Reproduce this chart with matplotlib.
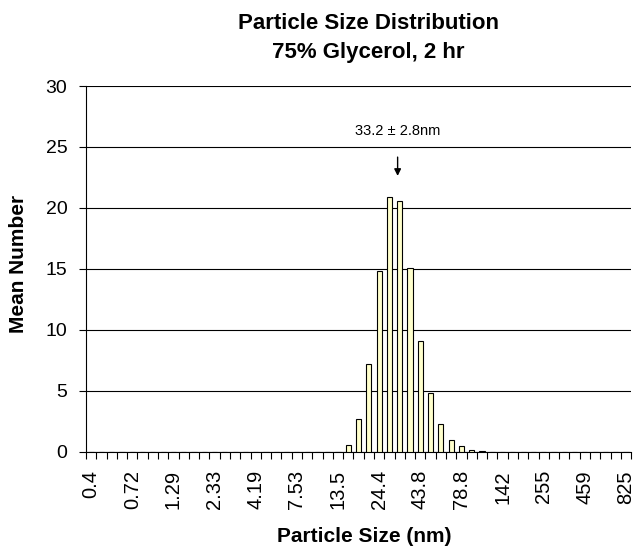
import matplotlib
matplotlib.use("Agg")
import matplotlib.pyplot as plt
import numpy as np

plt.rcParams["font.family"] = ["Liberation Sans", "DejaVu Sans"]

# size bins (nm), one bar per bin
sizes = [0.4, 0.4632, 0.5365, 0.6213, 0.7195, 0.8332, 0.9649, 1.117, 1.294, 1.499,
         1.736, 2.01, 2.328, 2.696, 3.122, 3.615, 4.187, 4.849, 5.615, 6.503,
         7.531, 8.721, 10.1, 11.7, 13.54, 15.69, 18.17, 21.04, 24.36, 28.21,
         32.67, 37.84, 43.82, 50.75, 58.77, 68.06, 78.82, 91.28, 105.7, 122.4,
         141.8, 164.2, 190.1, 220.2, 255.0, 295.3, 342.0, 396.1, 458.7, 531.2,
         615.1, 712.4, 825.0]
mean_number = [0] * 25 + [0.6, 2.7, 7.2, 14.8, 20.9, 20.6, 15.1, 9.1, 4.8, 2.3,
                          1.0, 0.45, 0.2, 0.1] + [0] * 14
tick_labels = ["0.4", "0.72", "1.29", "2.33", "4.19", "7.53", "13.5",
               "24.4", "43.8", "78.8", "142", "255", "459", "825"]
mean_size = 33.2
mean_err = 2.8

fig = plt.figure(figsize=(6.39, 5.52), dpi=100)
ax = fig.add_axes([0.1346, 0.1812, 0.853, 0.663])

x = np.arange(len(sizes))
ax.bar(x, mean_number, width=0.5, color="#FFFFCC", edgecolor="black",
       linewidth=0.8, zorder=3)

ax.set_xlim(-0.5, len(sizes) - 0.5)
ax.set_ylim(0, 30)
ax.set_yticks(range(0, 31, 5))
ax.yaxis.grid(True, color="black", linewidth=0.8)
ax.set_axisbelow(True)

ax.set_xticks(x[::4])
ax.set_xticklabels(tick_labels, rotation=90, fontsize=14.5)
ax.set_xticks(np.arange(-0.5, len(sizes)), minor=True)
ax.tick_params(axis="x", which="major", length=0, pad=13)
ax.tick_params(axis="x", which="minor", length=5, direction="out", width=0.8)
ax.tick_params(axis="y", length=5, direction="out", width=0.8, labelsize=14, pad=8.5)

for s in ["top", "right"]:
    ax.spines[s].set_visible(False)
ax.spines["left"].set_linewidth(0.8)
ax.spines["bottom"].set_linewidth(0.8)

ax.set_xlabel("Particle Size (nm)", fontsize=15, fontweight="bold", va="center")
ax.xaxis.set_label_coords(0.51, -0.232)
ax.set_ylabel("Mean Number", fontsize=15, fontweight="bold", va="center")
ax.yaxis.set_label_coords(-0.124, 0.514)

peak_x = 29.8
ax.annotate("", xy=(peak_x, 22.4), xytext=(peak_x, 24.4),
            arrowprops=dict(arrowstyle="-|>", color="black", lw=1,
                            mutation_scale=10))
ax.text(peak_x, 26.0, f"{mean_size} ± {mean_err}nm", ha="center",
        va="baseline", fontsize=10.5)

fig.text(0.576, 1 - 29 / 552, "Particle Size Distribution", ha="center",
         va="baseline", fontsize=16, fontweight="bold")
fig.text(0.576, 1 - 58 / 552, "75% Glycerol, 2 hr", ha="center",
         va="baseline", fontsize=16, fontweight="bold")

fig.savefig("out.png", dpi=100)
